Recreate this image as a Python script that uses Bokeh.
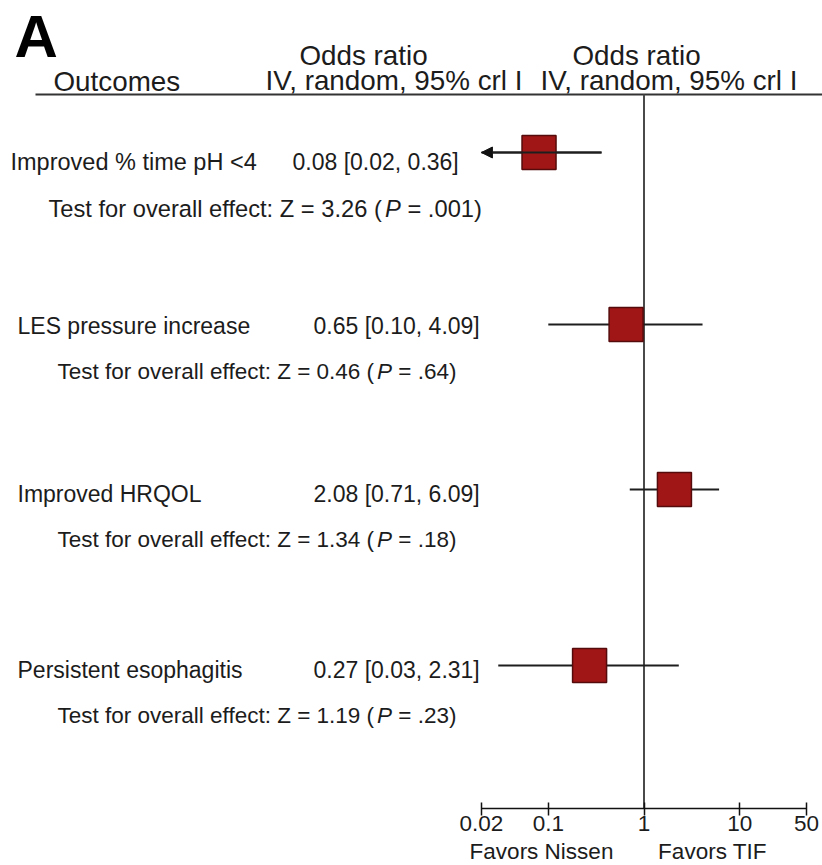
from bokeh.plotting import figure
from bokeh.layouts import column
from bokeh.models import (Range1d, Label, FixedTicker, Arrow, NormalHead,
                          CustomJSTickFormatter)
from bokeh.embed import file_html
from bokeh.resources import INLINE

# ---------------- data ----------------
outcomes = ["Improved % time pH <4", "LES pressure increase", "Improved HRQOL", "Persistent esophagitis"]
odds_ratio = [0.08, 0.65, 2.08, 0.27]
ci_low = [0.02, 0.10, 0.71, 0.03]
ci_high = [0.36, 4.09, 6.09, 2.31]
z_values = ["3.26", "0.46", "1.34", "1.19"]
p_values = [".001", ".64", ".18", ".23"]
truncated_low = [True, False, False, False]
null_value = 1
tick_values = [0.02, 0.1, 1, 10, 50]
tick_labels = ["0.02", "0.1", "1", "10", "50"]
header_outcome = "Outcomes"
header_top = "Odds ratio"
header_bottom = "IV, random, 95% crl I"
favors_labels = ["Favors Nissen", "Favors TIF"]
panel_letter = "A"

# ---------------- layout ----------------
W, H = 822, 865
AXIS_Y = 808          # pixel row of the x axis line
AXIS_PANEL = 31       # height reserved under the axis line for ticks + labels
TOP_H = AXIS_Y + AXIS_PANEL
CAP_H = H - TOP_H     # strip holding the "Favors" captions
ONE_PX = 643.5        # pixel column of OR = 1
DEC_PX = 95.7         # pixels per decade
HEADER_LINE_Y = 94
favors_px = [541, 712]
favors_base = 859.8

row_y = [152, 324, 489, 665]
label_base = [170, 334, 502, 678]
test_base = [217, 379, 547, 723]
label_x = [10, 17, 17, 17]
value_x = [292, 313, 313, 313]
test_x = [48, 57, 57, 57]
label_size = [23.5, 23, 23, 23]
value_size = [23, 23, 23, 23]
test_size = [23.7, 22.5, 22.5, 22.5]

FONT = "Liberation Sans"
TXT = "#1c1c1c"
BODY = 22.5
HEAD = 27.8
BASE_SHIFT = 0.37     # renderer places 'alphabetic' text lower by ~0.37 em

def px2x(px):
    return 10 ** ((px - ONE_PX) / DEC_PX)

ARIAL = {' ': 278, '(': 333, ')': 333, ',': 278, '.': 278, ':': 278, '=': 584,
         'T': 611, 'Z': 611, 'P': 667, 'a': 556, 'c': 500, 'e': 556, 'f': 278,
         'l': 222, 'o': 556, 'r': 333, 's': 500, 't': 278, 'v': 500}
for d in "0123456789":
    ARIAL[d] = 556

def text_w(s, size):
    return sum(ARIAL.get(c, 556) for c in s) * size / 1000.0

xr = Range1d(px2x(0), px2x(W))

p = figure(width=W, height=TOP_H, x_axis_type="log",
           x_range=xr, y_range=Range1d(AXIS_Y, 0),
           output_backend="svg", toolbar_location=None,
           min_border_left=0, min_border_right=0, min_border_top=0,
           min_border_bottom=AXIS_PANEL, y_axis_location=None)
p.outline_line_color = None
p.grid.visible = False
p.background_fill_color = "white"
p.border_fill_color = "white"

ax = p.xaxis[0]
ax.ticker = FixedTicker(ticks=tick_values)
ax.formatter = CustomJSTickFormatter(args=dict(vals=tick_values, labs=tick_labels), code="""
    for (let i = 0; i < vals.length; i++) {
        if (Math.abs(vals[i] - tick) < 1e-9 * Math.max(1, vals[i])) { return labs[i]; }
    }
    return String(tick);
""")
ax.bounds = (tick_values[0], tick_values[-1])
ax.axis_line_width = 1.5
ax.axis_line_color = "#111111"
ax.major_tick_in = 6
ax.major_tick_out = 7
ax.major_tick_line_width = 1.5
ax.major_tick_line_color = "#111111"
ax.minor_tick_line_color = None
ax.major_label_text_font = FONT
ax.major_label_text_font_size = f"{BODY}px"
ax.major_label_text_color = TXT
ax.major_label_standoff = 0

# header rule and null line
p.segment(x0=[px2x(35)], x1=[px2x(W)], y0=[HEADER_LINE_Y], y1=[HEADER_LINE_Y],
          line_color="#333333", line_width=2)
p.segment(x0=[null_value], x1=[null_value], y0=[HEADER_LINE_Y], y1=[AXIS_Y],
          line_color="#4a4a4a", line_width=2)

# confidence intervals
p.segment(x0=ci_low, x1=ci_high, y0=row_y, y1=row_y, line_color="#1e1e1e", line_width=2)
for lo, hi, y, tr in zip(ci_low, ci_high, row_y, truncated_low):
    if tr:
        p.add_layout(Arrow(end=NormalHead(size=11, fill_color="#111111", line_color="#111111"),
                           x_start=hi, y_start=y, x_end=lo, y_end=y,
                           line_color="#1e1e1e", line_width=2))

# point estimates
p.scatter(x=odds_ratio, y=row_y, marker="square", size=34,
          fill_color="#a01616", line_color="#550b0b", line_width=1.5)

def lab(fig, x, base, text, size, align="left", style="normal", color=TXT):
    fig.add_layout(Label(x=x, y=base - BASE_SHIFT * size, x_units="screen", y_units="data",
                         text=text, text_font=FONT, text_font_size=f"{size}px",
                         text_align=align, text_baseline="alphabetic",
                         text_font_style=style, text_color=color))

# header
lab(p, 14, 58, panel_letter, 60, style="bold", color="#000000")
lab(p, 53, 91, header_outcome, HEAD)
lab(p, 363, 65, header_top, HEAD, align="center")
lab(p, 636, 65, header_top, HEAD, align="center")
lab(p, 265, 90, header_bottom, HEAD)
lab(p, 540, 90, header_bottom, HEAD)

# rows
for i, name in enumerate(outcomes):
    lab(p, label_x[i], label_base[i], name, label_size[i])
    val = f"{odds_ratio[i]:.2f} [{ci_low[i]:.2f}, {ci_high[i]:.2f}]"
    lab(p, value_x[i], label_base[i], val, value_size[i])
    s = test_size[i]
    pre = f"Test for overall effect: Z = {z_values[i]} ("
    mid = "P"
    post = f"= {p_values[i]})"
    x0 = test_x[i]
    lab(p, x0, test_base[i], pre, s)
    x1 = x0 + text_w(pre, s)
    lab(p, x1, test_base[i], mid, s, style="italic")
    x2 = x1 + text_w(mid, s) + text_w(" ", s)
    lab(p, x2, test_base[i], post, s)

# caption strip under the axis
p2 = figure(width=W, height=CAP_H, x_axis_type="log", x_range=xr,
            y_range=Range1d(CAP_H, 0), output_backend="svg", toolbar_location=None,
            min_border_left=0, min_border_right=0, min_border_top=0, min_border_bottom=0,
            x_axis_location=None, y_axis_location=None)
p2.outline_line_color = None
p2.grid.visible = False
p2.background_fill_color = "white"
p2.border_fill_color = "white"
for fx, txt in zip(favors_px, favors_labels):
    lab(p2, fx, favors_base - TOP_H, txt, BODY, align="center")

layout = column(p, p2, spacing=0)
open("out.html", "w").write(file_html(layout, INLINE))
